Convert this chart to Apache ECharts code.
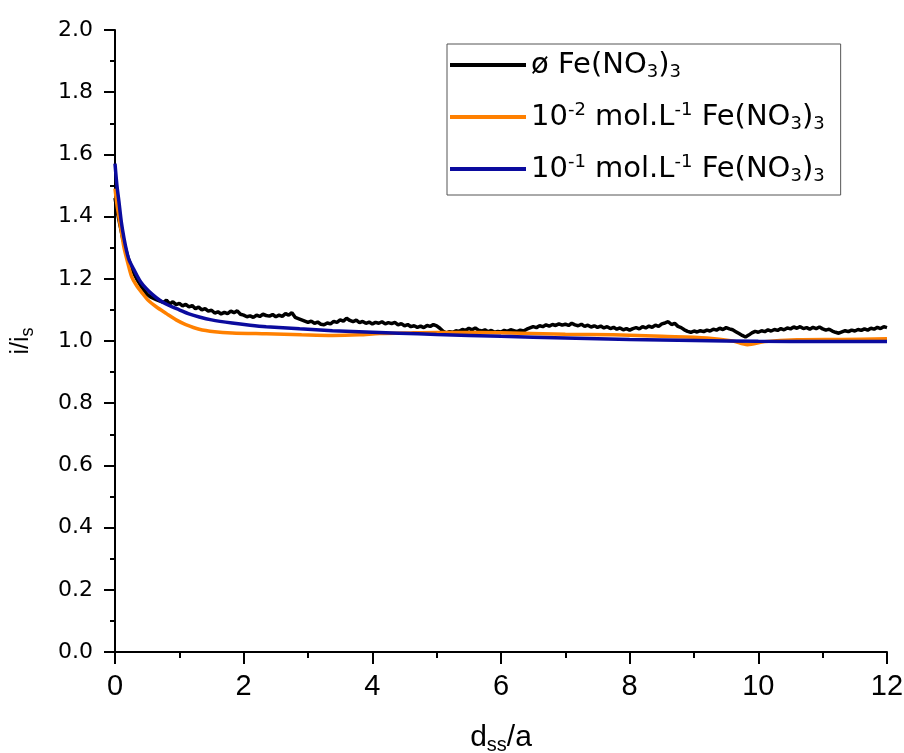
<!DOCTYPE html>
<html>
<head>
<meta charset="utf-8">
<script src="https://cdn.jsdelivr.net/npm/echarts@6/dist/echarts.min.js"></script>
<style>html,body{margin:0;padding:0;background:#fff;}#c{width:904px;height:753px;}</style>
</head>
<body>
<div id="c"></div>
<script>
// ---- data ----
const seriesNames = ['ø Fe(NO3)3', '10-2 mol.L-1 Fe(NO3)3', '10-1 mol.L-1 Fe(NO3)3'];
const legendLabels = [
  'ø Fe(NO{sub|3}){sub|3}',
  '10{sup|-2} mol.L{sup|-1} Fe(NO{sub|3}){sub|3}',
  '10{sup|-1} mol.L{sup|-1} Fe(NO{sub|3}){sub|3}'
];
const xTicks = [0, 2, 4, 6, 8, 10, 12];
const yTicks = [0.0, 0.2, 0.4, 0.6, 0.8, 1.0, 1.2, 1.4, 1.6, 1.8, 2.0];

const blackX = [0.00,0.04,0.08,0.12,0.16,0.20,0.25,0.30,0.35,0.40,0.45,0.50,0.55,0.60,0.65,0.70,0.75,0.80,0.85,0.90,0.95,
1.00,1.05,1.10,1.15,1.20,1.25,1.30,1.35,1.40,1.45,1.50,1.55,1.60,1.65,1.70,1.75,1.80,1.85,1.90,1.95,
2.00,2.05,2.10,2.15,2.20,2.25,2.30,2.35,2.40,2.45,2.50,2.55,2.60,2.65,2.70,2.75,2.80,2.85,2.90,2.95,
3.00,3.05,3.10,3.15,3.20,3.25,3.30,3.35,3.40,3.45,3.50,3.55,3.60,3.65,3.70,3.75,3.80,3.85,3.90,3.95,
4.00,4.05,4.10,4.15,4.20,4.25,4.30,4.35,4.40,4.45,4.50,4.55,4.60,4.65,4.70,4.75,4.80,4.85,4.90,4.95,
5.00,5.05,5.10,5.15,5.20,5.25,5.30,5.35,5.40,5.45,5.50,5.55,5.60,5.65,5.70,5.75,5.80,5.85,5.90,5.95,
6.00,6.05,6.10,6.15,6.20,6.25,6.30,6.35,6.40,6.45,6.50,6.55,6.60,6.65,6.70,6.75,6.80,6.85,6.90,6.95,
7.00,7.05,7.10,7.15,7.20,7.25,7.30,7.35,7.40,7.45,7.50,7.55,7.60,7.65,7.70,7.75,7.80,7.85,7.90,7.95,
8.00,8.05,8.10,8.15,8.20,8.25,8.30,8.35,8.40,8.45,8.50,8.55,8.60,8.65,8.70,8.75,8.80,8.85,8.90,8.95,
9.00,9.05,9.10,9.15,9.20,9.25,9.30,9.35,9.40,9.45,9.50,9.55,9.60,9.65,9.70,9.75,9.80,9.85,9.90,9.95,
10.00,10.05,10.10,10.15,10.20,10.25,10.30,10.35,10.40,10.45,10.50,10.55,10.60,10.65,10.70,10.75,10.80,10.85,10.90,10.95,
11.00,11.05,11.10,11.15,11.20,11.25,11.30,11.35,11.40,11.45,11.50,11.55,11.60,11.65,11.70,11.75,11.80,11.85,11.90,11.95,12.00];
const blackY = [1.460,1.410,1.370,1.330,1.300,1.270,1.240,1.215,1.195,1.178,1.163,1.150,1.142,1.137,1.132,1.128,1.124,1.131,1.119,1.126,1.117,
1.121,1.113,1.118,1.110,1.114,1.104,1.109,1.100,1.104,1.096,1.099,1.090,1.094,1.087,1.092,1.088,1.096,1.091,1.097,1.086,
1.083,1.078,1.081,1.076,1.083,1.079,1.086,1.082,1.080,1.085,1.078,1.083,1.079,1.088,1.083,1.091,1.076,1.072,1.068,1.064,
1.060,1.064,1.057,1.061,1.054,1.052,1.058,1.055,1.063,1.060,1.068,1.064,1.073,1.066,1.062,1.067,1.059,1.063,1.057,1.061,
1.055,1.060,1.057,1.062,1.055,1.059,1.056,1.060,1.052,1.056,1.049,1.053,1.046,1.049,1.044,1.048,1.043,1.050,1.047,1.053,
1.049,1.041,1.031,1.026,1.030,1.028,1.033,1.031,1.037,1.034,1.041,1.036,1.042,1.035,1.032,1.036,1.030,1.034,1.028,1.031,
1.029,1.034,1.031,1.036,1.033,1.030,1.035,1.032,1.038,1.042,1.046,1.043,1.049,1.046,1.052,1.048,1.053,1.050,1.055,1.051,
1.054,1.050,1.057,1.052,1.049,1.054,1.047,1.051,1.045,1.049,1.044,1.048,1.042,1.046,1.040,1.044,1.038,1.042,1.036,1.040,
1.035,1.040,1.043,1.039,1.046,1.042,1.048,1.044,1.051,1.047,1.055,1.058,1.062,1.053,1.057,1.047,1.043,1.036,1.031,1.028,
1.032,1.029,1.033,1.030,1.035,1.032,1.038,1.035,1.041,1.037,1.043,1.039,1.036,1.030,1.024,1.018,1.013,1.019,1.026,1.031,
1.028,1.033,1.030,1.036,1.032,1.037,1.034,1.040,1.036,1.042,1.039,1.045,1.041,1.046,1.040,1.043,1.038,1.044,1.040,1.045,
1.039,1.035,1.038,1.032,1.028,1.025,1.029,1.033,1.030,1.035,1.032,1.037,1.034,1.039,1.035,1.041,1.038,1.044,1.040,1.046,1.043];

const orangeX = [0,0.03,0.06,0.10,0.14,0.20,0.26,0.33,0.42,0.52,0.64,0.80,0.95,1.10,1.31,1.55,1.82,2.35,2.90,3.38,3.80,4.11,4.60,5.00,5.67,6.30,7.00,7.74,8.50,9.20,9.60,9.83,10.10,10.60,11.30,12.00];
const orangeY = [1.490,1.440,1.400,1.350,1.300,1.250,1.206,1.180,1.155,1.130,1.110,1.088,1.068,1.053,1.038,1.030,1.026,1.023,1.020,1.018,1.020,1.024,1.026,1.027,1.027,1.025,1.022,1.020,1.015,1.010,1.000,0.988,0.998,1.004,1.005,1.007];

const blueX = [0,0.03,0.06,0.10,0.14,0.18,0.22,0.28,0.33,0.40,0.48,0.58,0.69,0.80,1.00,1.15,1.31,1.50,1.82,2.10,2.35,2.87,3.38,4.00,4.42,5.00,6.00,7.00,8.00,9.00,10.00,11.00,12.00];
const blueY = [1.570,1.500,1.450,1.380,1.330,1.290,1.260,1.235,1.215,1.190,1.170,1.150,1.132,1.118,1.100,1.087,1.077,1.068,1.058,1.051,1.046,1.039,1.033,1.028,1.025,1.021,1.015,1.010,1.005,1.002,0.999,0.998,0.998];

function pairs(xs, ys) { return xs.map((x, i) => [x, ys[i]]); }

const colors = ['#000000', '#ff8000', '#0b0b9e'];
const sans = "'Liberation Sans', Arial, sans-serif";
const wide = "'DejaVu Sans', 'Liberation Sans', sans-serif";

const chart = echarts.init(document.getElementById('c'), null, { renderer: 'canvas' });
chart.setOption({
  animation: false,
  backgroundColor: '#ffffff',
  grid: { left: 115, right: 17, top: 30, bottom: 101, containLabel: false, outerBoundsMode: 'none' },
  legend: {
    orient: 'vertical',
    left: 447, top: 44,
    data: seriesNames,
    icon: 'rect',
    itemWidth: 76, itemHeight: 4,
    itemGap: 20,
    padding: [5, 16, 10, 3],
    borderColor: '#555555', borderWidth: 1,
    backgroundColor: '#ffffff',
    formatter: function (name) { return legendLabels[seriesNames.indexOf(name)]; },
    textStyle: {
      fontFamily: wide, fontSize: 29, color: '#000', lineHeight: 32,
      rich: {
        sup: { fontFamily: wide, fontSize: 18, color: '#000', verticalAlign: 'top' },
        sub: { fontFamily: wide, fontSize: 18, color: '#000', verticalAlign: 'bottom' }
      }
    }
  },
  xAxis: {
    type: 'value', min: 0, max: 12, interval: 2,
    name: 'd{sub|ss}/a', nameLocation: 'middle', nameGap: 69, nameMoveOverlap: false,
    nameTextStyle: {
      fontFamily: sans, fontSize: 30, color: '#000', lineHeight: 34,
      rich: { sub: { fontFamily: sans, fontSize: 20, color: '#000', verticalAlign: 'bottom' } }
    },
    axisLine: { show: true, onZero: false, lineStyle: { color: '#000', width: 2 } },
    axisTick: { show: true, inside: false, length: 12, lineStyle: { color: '#000', width: 2 } },
    minorTick: { show: true, splitNumber: 2, length: 6, lineStyle: { color: '#000', width: 2 } },
    splitLine: { show: false },
    axisLabel: {
      margin: 20, fontFamily: sans, fontSize: 29, color: '#000',
      formatter: function (v) { return xTicks.indexOf(v) >= 0 ? String(v) : ''; }
    }
  },
  yAxis: {
    type: 'value', min: 0, max: 2, interval: 0.2,
    name: 'i/i{sub|s}', nameLocation: 'middle', nameGap: 78, nameRotate: 90, nameMoveOverlap: false,
    nameTextStyle: {
      fontFamily: sans, fontSize: 25, color: '#000', lineHeight: 32,
      rich: { sub: { fontFamily: sans, fontSize: 18, color: '#000', verticalAlign: 'bottom' } }
    },
    axisLine: { show: true, onZero: false, lineStyle: { color: '#000', width: 2 } },
    axisTick: { show: true, inside: false, length: 11, lineStyle: { color: '#000', width: 2 } },
    minorTick: { show: true, splitNumber: 2, length: 5, lineStyle: { color: '#000', width: 2 } },
    splitLine: { show: false },
    axisLabel: {
      margin: 22, fontFamily: wide, fontSize: 22, color: '#000',
      formatter: function (v) {
        const t = yTicks.find(k => Math.abs(k - v) < 1e-9);
        return t === undefined ? '' : t.toFixed(1);
      }
    }
  },
  series: [
    { name: seriesNames[0], type: 'line', data: pairs(blackX, blackY), showSymbol: false, symbol: 'none',
      lineStyle: { color: colors[0], width: 3.5 }, itemStyle: { color: colors[0] }, z: 2 },
    { name: seriesNames[1], type: 'line', data: pairs(orangeX, orangeY), showSymbol: false, symbol: 'none', smooth: 0.3,
      lineStyle: { color: colors[1], width: 3.5 }, itemStyle: { color: colors[1] }, z: 3 },
    { name: seriesNames[2], type: 'line', data: pairs(blueX, blueY), showSymbol: false, symbol: 'none', smooth: 0.3,
      lineStyle: { color: colors[2], width: 3.5 }, itemStyle: { color: colors[2] }, z: 4 }
  ]
});
</script>
</body>
</html>
